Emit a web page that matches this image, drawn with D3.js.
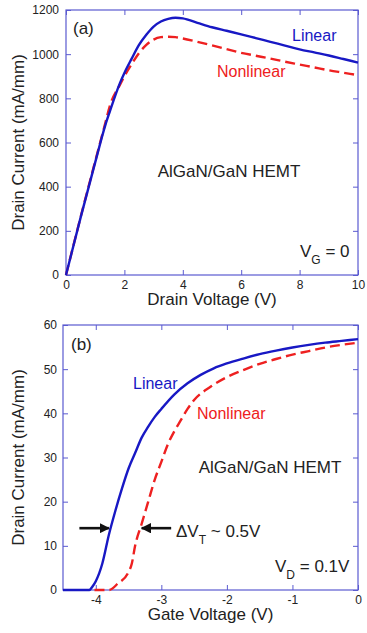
<!DOCTYPE html>
<html><head><meta charset="utf-8">
<script src="https://cdn.jsdelivr.net/npm/d3@7"></script>
<style>body{margin:0;background:#fff}svg{display:block}text{font-family:"Liberation Sans",Arial,sans-serif}</style>
</head><body>
<svg id="c" width="367" height="633"></svg>
<script>
// Panel (a): output characteristics, V_G = 0
const aVd        = [0, 0.5, 1, 1.35, 1.5, 1.85, 2, 2.25, 2.5, 2.75, 3, 3.25, 3.5, 3.75, 4, 4.5, 5, 5.5, 6, 6.5, 7, 7.5, 8, 8.5, 9, 9.5, 10];
const aLinear    = [0, 260, 510, 680, 740, 870, 915, 980, 1042, 1088, 1125, 1148, 1160, 1165, 1162, 1142, 1122, 1106, 1090, 1073, 1056, 1039, 1022, 1008, 994, 978, 962];
const aNonlinear = [0, 262, 515, 690, 765, 862, 900, 955, 1005, 1042, 1066, 1077, 1079, 1077, 1071, 1056, 1040, 1023, 1006, 993, 980, 966, 953, 940, 927, 916, 905];
const aXTicks = [0, 2, 4, 6, 8, 10];
const aYTicks = [0, 200, 400, 600, 800, 1000, 1200];

// Panel (b): transfer characteristics, V_D = 0.1V
const bVgLin     = [-4.5, -4.1, -4.05, -4, -3.9, -3.8, -3.7, -3.6, -3.5, -3.4, -3.3, -3.2, -3.1, -3, -2.8, -2.6, -2.4, -2.2, -2, -1.75, -1.5, -1.25, -1, -0.75, -0.5, -0.25, 0];
const bLinear    = [0, 0, 0.8, 2, 6, 12.5, 18, 23, 27.5, 31, 34.5, 37, 39.2, 41, 44.3, 46.8, 48.7, 50.2, 51.3, 52.4, 53.4, 54.2, 54.9, 55.5, 56, 56.4, 56.8];
const bVgNon     = [-4.02, -3.8, -3.66, -3.51, -3.45, -3.4, -3.3, -3.2, -3.1, -3, -2.9, -2.8, -2.7, -2.6, -2.5, -2.25, -2, -1.75, -1.5, -1.25, -1, -0.75, -0.5, -0.25, 0];
const bNonlinear = [0, 0, 1.5, 3.8, 6, 10, 15, 20, 25, 29, 33, 36, 38.5, 41, 43, 46, 48.2, 49.8, 51.2, 52.3, 53.3, 54.1, 54.9, 55.5, 56];
const bXTicks = [-4, -3, -2, -1, 0];
const bYTicks = [0, 10, 20, 30, 40, 50, 60];

const BLUE = "#1818c4", RED = "#ee2020", FRAME = "#5a5ad0";
const svg = d3.select("#c");

function panel(o) {
  const g = svg.append("g");
  const x = d3.scaleLinear().domain(o.xd).range([o.l, o.r]);
  const y = d3.scaleLinear().domain(o.yd).range([o.b, o.t]);
  const fmt = d => String(d);
  const styleAxis = s => {
    s.select(".domain").remove();
    s.selectAll(".tick line").attr("stroke", FRAME);
    s.selectAll(".tick text").attr("fill", "#222").style("font-size", "12px")
      .style("font-family", '"Liberation Sans",Arial,sans-serif');
  };
  g.append("g").attr("transform", `translate(0,${o.b})`)
    .call(d3.axisBottom(x).tickValues(o.xt).tickFormat(fmt).tickSize(-5).tickPadding(5)).call(styleAxis);
  g.append("g").attr("transform", `translate(0,${o.t})`)
    .call(d3.axisTop(x).tickValues(o.xt).tickFormat("").tickSize(-5)).call(styleAxis);
  g.append("g").attr("transform", `translate(${o.l},0)`)
    .call(d3.axisLeft(y).tickValues(o.yt).tickFormat(fmt).tickSize(-5).tickPadding(o.yp)).call(styleAxis);
  g.append("g").attr("transform", `translate(${o.r},0)`)
    .call(d3.axisRight(y).tickValues(o.yt).tickFormat("").tickSize(-5)).call(styleAxis);
  g.append("rect").attr("x", o.l).attr("y", o.t).attr("width", o.r - o.l).attr("height", o.b - o.t)
    .attr("fill", "none").attr("stroke", FRAME).attr("stroke-width", 1.2);
  const line = d3.line().x(d => x(d[0])).y(d => y(d[1])).curve(d3.curveMonotoneX);
  g.append("path").datum(d3.zip(o.nx, o.ny)).attr("d", line)
    .attr("fill", "none").attr("stroke", RED).attr("stroke-width", 2.4).attr("stroke-dasharray", "10,5");
  g.append("path").datum(d3.zip(o.lx, o.ly)).attr("d", line)
    .attr("fill", "none").attr("stroke", BLUE).attr("stroke-width", 2.4);
  // axis titles
  g.append("text").attr("x", (o.l + o.r) / 2).attr("y", o.b + 30).attr("text-anchor", "middle")
    .style("font-size", "17px").attr("fill", "#222").text(o.xlabel);
  g.append("text").attr("transform", `translate(24,${(o.t + o.b) / 2}) rotate(-90)`).attr("text-anchor", "middle")
    .style("font-size", "17px").attr("fill", "#222").text("Drain Current (mA/mm)");
  return {g, x, y};
}

function txt(g, x, y, s, size, fill, anchor) {
  return g.append("text").attr("x", x).attr("y", y).attr("text-anchor", anchor || "start")
    .style("font-size", size + "px").attr("fill", fill).text(s);
}
function subText(g, x, y, main, sub, rest) {
  const t = g.append("text").attr("x", x).attr("y", y).style("font-size", "17px").attr("fill", "#222");
  t.append("tspan").text(main);
  t.append("tspan").attr("dy", 7).style("font-size", "12px").text(sub);
  t.append("tspan").attr("dy", -7).text(rest);
  return t;
}

// Panel a
const A = panel({xd:[0,10], yd:[0,1200], l:66, r:358, t:10, b:275, xt:aXTicks, yt:aYTicks, yp:7,
  lx:aVd, ly:aLinear, nx:aVd, ny:aNonlinear, xlabel:"Drain Voltage (V)"});
txt(A.g, 73, 34, "(a)", 17, "#222");
txt(A.g, 292, 41, "Linear", 16, BLUE);
txt(A.g, 217, 77, "Nonlinear", 16, RED);
txt(A.g, 229, 177, "AlGaN/GaN HEMT", 17, "#222", "middle");
subText(A.g, 300, 257, "V", "G", " = 0");

// Panel b
const B = panel({xd:[-4.5,0], yd:[0,60], l:63, r:358, t:325, b:590, xt:bXTicks, yt:bYTicks, yp:6,
  lx:bVgLin, ly:bLinear, nx:bVgNon, ny:bNonlinear, xlabel:"Gate Voltage (V)"});
txt(B.g, 71, 350, "(b)", 17, "#222");
txt(B.g, 133, 389, "Linear", 16, BLUE);
txt(B.g, 197, 419, "Nonlinear", 16, RED);
txt(B.g, 270, 473, "AlGaN/GaN HEMT", 17, "#222", "middle");
subText(B.g, 176, 537, "ΔV", "T", " ~ 0.5V");
subText(B.g, 275, 572, "V", "D", " = 0.1V");

// arrows marking threshold shift at I = 14 mA/mm
const defs = svg.append("defs");
defs.append("marker").attr("id", "ah").attr("viewBox", "0 0 10 10").attr("refX", 9).attr("refY", 5)
  .attr("markerWidth", 4).attr("markerHeight", 4).attr("orient", "auto")
  .append("path").attr("d", "M0,0L10,5L0,10z").attr("fill", "#111");
const arrowI = 14;
B.g.append("line").attr("x1", B.x(-4.25)).attr("x2", B.x(-3.8)).attr("y1", B.y(arrowI)).attr("y2", B.y(arrowI))
  .attr("stroke", "#111").attr("stroke-width", 2.6).attr("marker-end", "url(#ah)");
B.g.append("line").attr("x1", B.x(-2.85)).attr("x2", B.x(-3.3)).attr("y1", B.y(arrowI)).attr("y2", B.y(arrowI))
  .attr("stroke", "#111").attr("stroke-width", 2.6).attr("marker-end", "url(#ah)");
</script>
</body></html>
